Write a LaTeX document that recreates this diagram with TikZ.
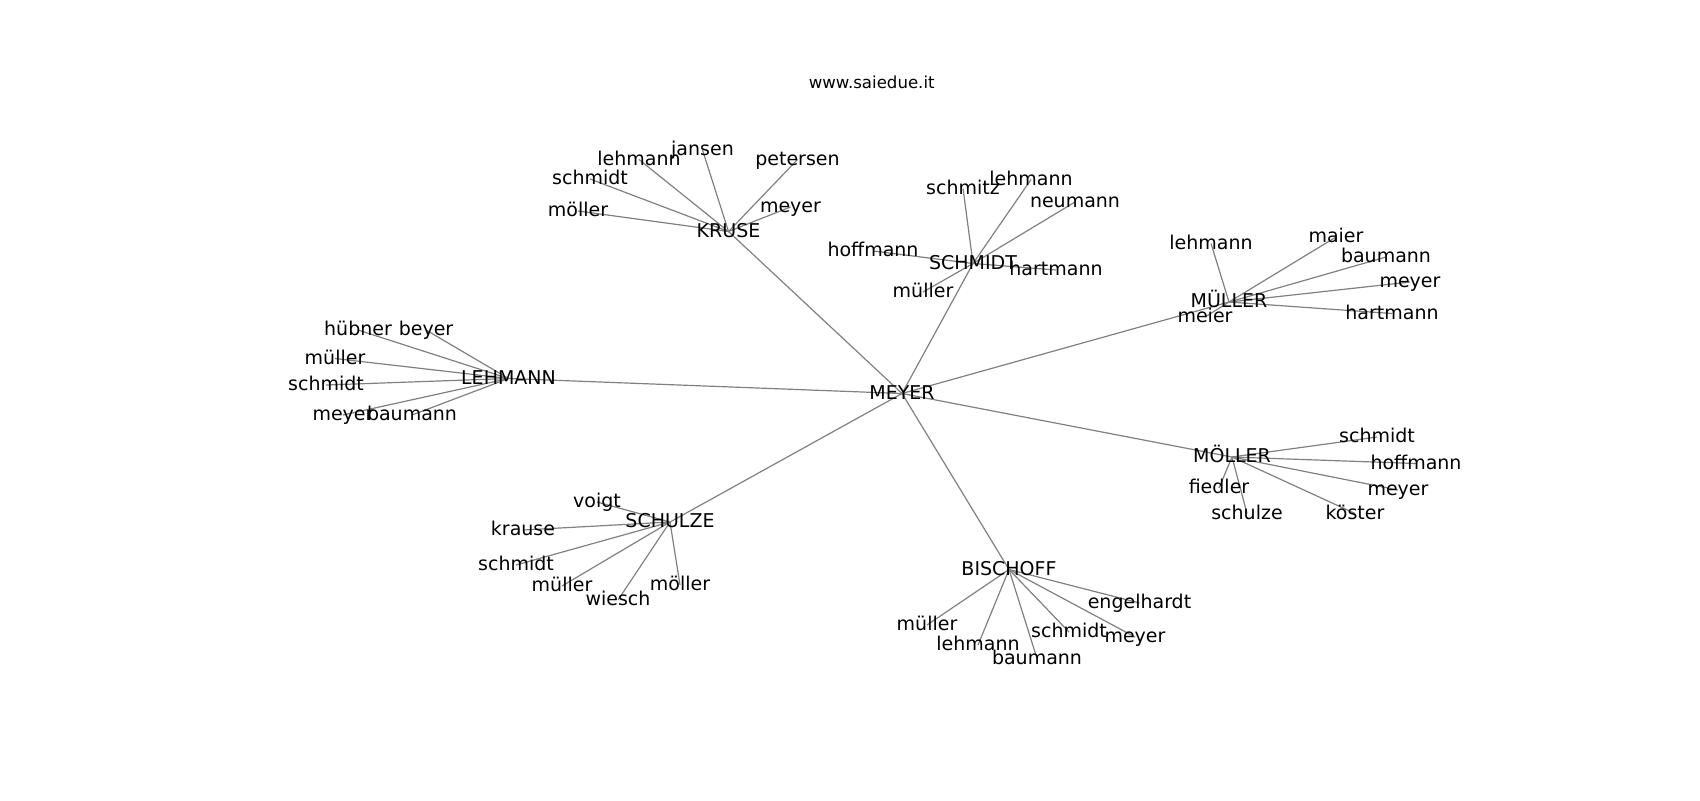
\documentclass[tikz,border=0pt]{standalone}
\usepackage{fontspec}
\setmainfont{DejaVu Sans}
\usetikzlibrary{backgrounds}
\begin{document}
\begin{tikzpicture}[x=0.5pt,y=-0.5pt]
      \useasboundingbox (0,0) rectangle (1700,800);
      \node[anchor=base,font=\fontsize{8.3}{10}\selectfont] (title) at (871.7, 88.3) {www.saiedue.it};
      \draw[inner sep=0pt,text height=0.76em,text depth=0.208em,font=\fontsize{9.5}{11}\selectfont]
        (902, 393.5) node (0){MEYER}
        (728.5, 231.5) node (1){KRUSE}
        (702.5, 150) node (2){jansen}
        (639, 159.5) node (3){lehmann}
        (797.5, 159.5) node (4){petersen}
        (590, 179) node (5){schmidt}
        (578, 211) node (6){möller}
        (790.5, 207) node (7){meyer}
        (973, 263.5) node (8){SCHMIDT}
        (963, 188.5) node (9){schmitz}
        (1031, 179.5) node (10){lehmann}
        (1075, 202) node (11){neumann}
        (873, 251) node (12){hoffmann}
        (1056, 270) node (13){hartmann}
        (923, 292) node (14){müller}
        (1229, 302) node (15){MÜLLER}
        (1211, 243.5) node (16){lehmann}
        (1336, 237) node (17){maier}
        (1386, 257) node (18){baumann}
        (1410, 282) node (19){meyer}
        (1392, 313.5) node (20){hartmann}
        (1205, 317) node (21){meier}
        (508.5, 378.5) node (22){LEHMANN}
        (358, 330) node (23){hübner}
        (426, 330) node (24){beyer}
        (335, 358.5) node (25){müller}
        (326, 385) node (26){schmidt}
        (343, 415) node (27){meyer}
        (412, 415) node (28){baumann}
        (1232, 457) node (29){MÖLLER}
        (1377, 437) node (30){schmidt}
        (1416, 463.5) node (31){hoffmann}
        (1398, 490) node (32){meyer}
        (1355, 513.5) node (33){köster}
        (1219, 488) node (34){fiedler}
        (1247, 513.5) node (35){schulze}
        (670, 522) node (36){SCHULZE}
        (597, 502) node (37){voigt}
        (523, 530) node (38){krause}
        (516, 565) node (39){schmidt}
        (562, 586) node (40){müller}
        (618, 600) node (41){wiesch}
        (680, 585) node (42){möller}
        (1009, 569.5) node (43){BISCHOFF}
        (927, 625) node (44){müller}
        (978, 645) node (45){lehmann}
        (1037, 658.5) node (46){baumann}
        (1069, 632) node (47){schmidt}
        (1135, 637) node (48){meyer}
        (1139.5, 603) node (49){engelhardt};
      \begin{scope}[on background layer]
      \begin{scope}[gray,line width=0.6pt]
        \foreach \h in {1,8,15,22,29,36,43}
          \draw (0.center) to (\h.center);
        \foreach \l in {2,...,7}
          \draw (1.center) to (\l.center);
        \foreach \l in {9,...,14}
          \draw (8.center) to (\l.center);
        \foreach \l in {16,...,21}
          \draw (15.center) to (\l.center);
        \foreach \l in {23,...,28}
          \draw (22.center) to (\l.center);
        \foreach \l in {30,...,35}
          \draw (29.center) to (\l.center);
        \foreach \l in {37,...,42}
          \draw (36.center) to (\l.center);
        \foreach \l in {44,...,49}
          \draw (43.center) to (\l.center);
      \end{scope}
      \end{scope}
    \end{tikzpicture}
\end{document}
